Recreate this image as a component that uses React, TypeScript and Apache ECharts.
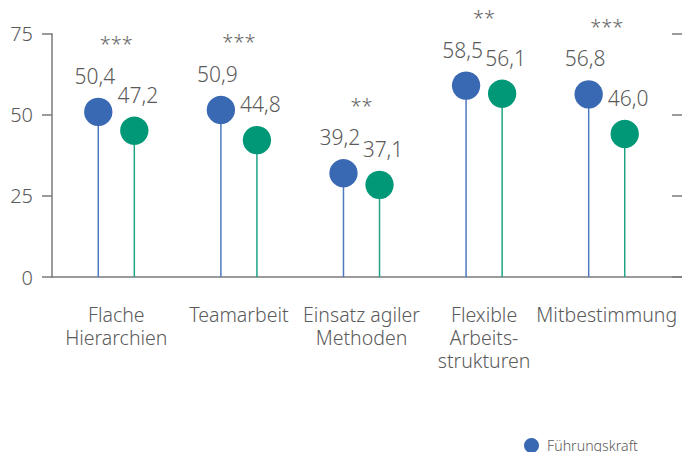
import React, { useEffect, useRef } from "react";
import * as echarts from "echarts";

const categories = [
  "Flache\nHierarchien",
  "Teamarbeit",
  "Einsatz agiler\nMethoden",
  "Flexible\nArbeits-\nstrukturen",
  "Mitbestimmung",
];
const fuehrungValues = [50.9, 51.5, 32.0, 59.0, 56.3];
const fuehrungLabels = ["50,4", "50,9", "39,2", "58,5", "56,8"];
const mitarbeiterValues = [45.1, 42.2, 28.4, 56.5, 44.1];
const mitarbeiterLabels = ["47,2", "44,8", "37,1", "56,1", "46,0"];
const significance = ["***", "***", "**", "**", "***"];
const yTicks = { min: 0, max: 75, interval: 25 };

const FONT = "Noto Sans";
const WEIGHT = 300;
const TEXT = "#5a5a5a";
const AXIS = "#7a7a7a";

function lollipop(name: string, values: number[], labels: string[], color: string, stem: string, side: number) {
  return {
    type: "custom",
    name,
    xAxisIndex: 1,
    yAxisIndex: 2,
    itemStyle: { color },
    data: values.map((v, i) => [i, v]),
    renderItem: (params: any, api: any) => {
      const idx = api.value(0);
      const val = api.value(1);
      const p = api.coord([idx, val]);
      const b = api.coord([idx, 0]);
      const band = api.size([1, 0])[0];
      const x = p[0] + side * band * 0.147;
      return {
        type: "group",
        children: [
          { type: "line", shape: { x1: x, y1: b[1], x2: x, y2: p[1] }, style: { stroke: stem, lineWidth: 1.5 } },
          { type: "circle", shape: { cx: x, cy: p[1], r: 14.2 }, style: { fill: color } },
          {
            type: "text",
            style: {
              text: labels[params.dataIndex],
              x: x + side * 3.5,
              y: p[1] - 36,
              align: "center",
              verticalAlign: "middle",
              fontSize: 21,
              fontFamily: FONT,
              fontWeight: WEIGHT,
              fill: TEXT,
            },
          },
        ],
      };
    },
  };
}

export default function App() {
  const ref = useRef<HTMLDivElement>(null);
  useEffect(() => {
    if (!ref.current) return;
    const chart = echarts.init(ref.current, null, { renderer: "svg" });
    const maxVals = fuehrungValues.map((v, i) => Math.max(v, mitarbeiterValues[i]));
    chart.setOption({
      animation: false,
      textStyle: { fontFamily: FONT, fontWeight: WEIGHT },
      grid: [
        { left: 52, right: 0, top: 33.7, bottom: 175 },
        { left: 55, right: 14, top: 33.7, bottom: 175 },
      ],
      legend: {
        data: [{ name: "Führungskraft", icon: "circle" }],
        left: 524,
        top: 438,
        padding: 0,
        itemWidth: 15,
        itemHeight: 15,
        itemGap: 8,
        textStyle: { fontSize: 14.2, color: TEXT, fontFamily: FONT, fontWeight: WEIGHT, padding: [0, 0, 0, 3] },
      },
      xAxis: [
        {
          gridIndex: 0,
          type: "value",
          min: 0,
          max: 1,
          axisLine: { show: true, lineStyle: { color: AXIS, width: 1.5 } },
          axisTick: { show: false },
          axisLabel: { show: false },
          splitLine: { show: false },
        },
        {
          gridIndex: 1,
          type: "category",
          data: categories,
          boundaryGap: true,
          axisLine: { show: false },
          axisTick: { show: false },
          axisLabel: {
            interval: 0,
            fontSize: 19.5,
            lineHeight: 23,
            margin: 26,
            color: TEXT,
            fontFamily: FONT,
            fontWeight: WEIGHT,
          },
        },
      ],
      yAxis: [
        {
          gridIndex: 0,
          type: "value",
          min: yTicks.min,
          max: yTicks.max,
          interval: yTicks.interval,
          axisLine: { show: true, lineStyle: { color: AXIS, width: 1.5 } },
          axisTick: { show: true, length: 10, lineStyle: { color: AXIS, width: 1.5 } },
          axisLabel: { fontSize: 20, color: TEXT, margin: 19, fontFamily: FONT, fontWeight: WEIGHT },
          splitLine: { show: false },
        },
        {
          gridIndex: 0,
          type: "value",
          min: yTicks.min,
          max: yTicks.max,
          interval: yTicks.interval,
          axisLine: { show: false },
          axisTick: { show: true, inside: true, length: 10, lineStyle: { color: AXIS, width: 1.5 } },
          axisLabel: { show: false },
          splitLine: { show: false },
        },
        {
          gridIndex: 1,
          type: "value",
          min: yTicks.min,
          max: yTicks.max,
          show: false,
          splitLine: { show: false },
        },
      ],
      series: [
        lollipop("Führungskraft", fuehrungValues, fuehrungLabels, "#3a69b3", "#4d78c2", -1),
        lollipop("Mitarbeitende", mitarbeiterValues, mitarbeiterLabels, "#009877", "#1fa384", 1),
        {
          type: "custom",
          name: "Signifikanz",
          xAxisIndex: 1,
          yAxisIndex: 2,
          data: maxVals.map((v, i) => [i, v]),
          renderItem: (params: any, api: any) => {
            const p = api.coord([api.value(0), api.value(1)]);
            return {
              type: "text",
              style: {
                text: significance[params.dataIndex],
                x: p[0],
                y: p[1] - 68,
                align: "center",
                verticalAlign: "middle",
                fontSize: 20,
                fontFamily: FONT,
                fontWeight: WEIGHT,
                fill: "#6a6a6a",
              },
            };
          },
        },
      ],
    });
    return () => chart.dispose();
  }, []);
  return (
    <div
      ref={ref}
      style={{ position: "fixed", left: 0, top: 0, width: 682, height: 452, background: "#fff" }}
    />
  );
}
